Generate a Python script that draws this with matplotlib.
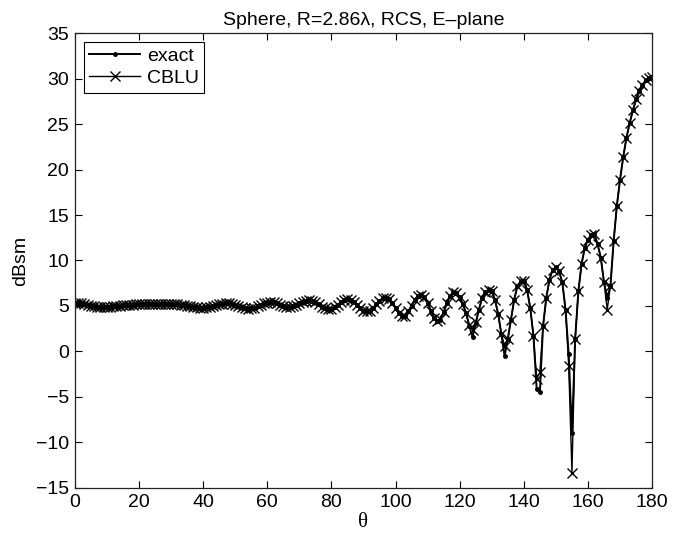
import numpy as np
import matplotlib
matplotlib.use("Agg")
import matplotlib.pyplot as plt

plt.rcParams['font.family'] = ['Liberation Sans', 'DejaVu Sans']

theta = list(range(0, 181))

exact = [
    5.35, 5.33, 5.28, 5.21, 5.13, 5.05, 4.98, 4.92, 4.88, 4.87,
    4.88, 4.91, 4.95, 4.99, 5.03, 5.07, 5.10, 5.13, 5.15, 5.17,
    5.18, 5.18, 5.18, 5.18, 5.18, 5.19, 5.20, 5.21, 5.22, 5.23,
    5.23, 5.22, 5.20, 5.16, 5.11, 5.05, 4.98, 4.91, 4.86, 4.83,
    4.83, 4.86, 4.92, 5.00, 5.09, 5.18, 5.25, 5.29, 5.28, 5.22,
    5.12, 5.00, 4.87, 4.77, 4.72, 4.74, 4.83, 4.97, 5.13, 5.28,
    5.38, 5.42, 5.39, 5.30, 5.16, 5.00, 4.90, 4.88, 4.95, 5.10,
    5.30, 5.48, 5.60, 5.64, 5.57, 5.40, 5.17, 4.93, 4.74, 4.66,
    4.72, 4.90, 5.15, 5.42, 5.63, 5.72, 5.66, 5.45, 5.13, 4.78,
    4.50, 4.40, 4.50, 4.80, 5.20, 5.58, 5.83, 5.90, 5.72, 5.30,
    4.75, 4.20, 3.88, 3.95, 4.40, 5.05, 5.70, 6.12, 6.22, 5.95,
    5.35, 4.50, 3.70, 3.30, 3.50, 4.30, 5.30, 6.10, 6.50, 6.45,
    5.95, 5.20, 4.20, 2.80, 1.60, 3.10, 4.60, 5.90, 6.50, 6.80,
    6.60, 5.70, 4.10, 1.90, -0.50, 1.35, 3.50, 5.70, 7.20, 7.70,
    7.80, 6.80, 4.80, 1.70, -4.10, -4.50, 2.80, 5.90, 7.90, 9.00,
    9.25, 8.80, 7.60, 4.60, -0.30, -9.00, 1.35, 6.60, 9.60, 11.40,
    12.30, 12.80, 12.90, 11.80, 10.30, 7.60, 5.90, 7.20, 12.10, 16.00,
    18.90, 21.40, 23.50, 25.10, 26.50, 27.70, 28.60, 29.30, 29.80, 30.10,
    30.20,
]

cblu = [
    5.35, 5.33, 5.28, 5.21, 5.13, 5.05, 4.98, 4.92, 4.88, 4.87,
    4.88, 4.91, 4.95, 4.99, 5.03, 5.07, 5.10, 5.13, 5.15, 5.17,
    5.18, 5.18, 5.18, 5.18, 5.18, 5.19, 5.20, 5.21, 5.22, 5.23,
    5.23, 5.22, 5.20, 5.16, 5.11, 5.05, 4.98, 4.91, 4.86, 4.83,
    4.83, 4.86, 4.92, 5.00, 5.09, 5.18, 5.25, 5.29, 5.28, 5.22,
    5.12, 5.00, 4.87, 4.77, 4.72, 4.74, 4.83, 4.97, 5.13, 5.28,
    5.38, 5.42, 5.39, 5.30, 5.16, 5.00, 4.90, 4.88, 4.95, 5.10,
    5.30, 5.48, 5.60, 5.64, 5.57, 5.40, 5.17, 4.93, 4.74, 4.66,
    4.72, 4.90, 5.15, 5.42, 5.63, 5.72, 5.66, 5.45, 5.13, 4.78,
    4.50, 4.40, 4.50, 4.80, 5.20, 5.58, 5.83, 5.90, 5.72, 5.30,
    4.75, 4.20, 3.88, 3.95, 4.40, 5.05, 5.70, 6.12, 6.22, 5.95,
    5.35, 4.50, 3.70, 3.35, 3.55, 4.30, 5.30, 6.10, 6.50, 6.45,
    5.95, 5.20, 4.20, 2.90, 2.40, 3.20, 4.60, 5.90, 6.50, 6.80,
    6.60, 5.70, 4.10, 1.90, 0.60, 1.35, 3.50, 5.70, 7.20, 7.70,
    7.80, 6.80, 4.80, 1.70, -3.00, -2.30, 2.80, 5.90, 7.90, 9.00,
    9.25, 8.80, 7.60, 4.60, -1.60, -13.30, 1.35, 6.60, 9.60, 11.40,
    12.30, 12.80, 12.90, 11.80, 10.30, 7.60, 4.60, 7.20, 12.10, 16.00,
    18.90, 21.40, 23.50, 25.10, 26.50, 27.70, 28.60, 29.30, 29.80, 30.10,
    30.20,
]

xticks = [0, 20, 40, 60, 80, 100, 120, 140, 160, 180]
yticks = [-15, -10, -5, 0, 5, 10, 15, 20, 25, 30, 35]

fig = plt.figure(figsize=(6.8, 5.36), dpi=100)
ax = fig.add_axes([0.110, 0.0896, 0.849, 0.8488])

ax.plot(theta, exact, color='black', lw=1.4, marker='.', markersize=5, label='exact')
ax.plot(theta, cblu, color='black', lw=1.0, marker='x', markersize=6.5,
        markeredgewidth=1.0, label='CBLU')

ax.set_xlim(0, 180)
ax.set_ylim(-15, 35)
ax.set_xticks(xticks)
ax.set_yticks(yticks)
ax.tick_params(direction='in', top=True, right=True, length=5, width=0.8,
               labelsize=14, colors='black', pad=4)
for s in ax.spines.values():
    s.set_linewidth(0.9)
    s.set_color('#222222')

ax.set_title('Sphere, R=2.86\u03bb, RCS, E\u2013plane', fontsize=14, pad=6)
ax.set_xlabel('\u03b8', fontsize=15, family=['Liberation Serif', 'DejaVu Serif'], labelpad=2)
ax.set_ylabel('dBsm', fontsize=14, labelpad=5)

leg = ax.legend(loc='upper left', fontsize=14, fancybox=False, framealpha=1,
                edgecolor='black', handlelength=2.6, borderaxespad=0.45,
                handletextpad=0.35, labelspacing=0.2, borderpad=0.3)
leg.get_frame().set_linewidth(0.8)

fig.savefig('out.png', dpi=100)
